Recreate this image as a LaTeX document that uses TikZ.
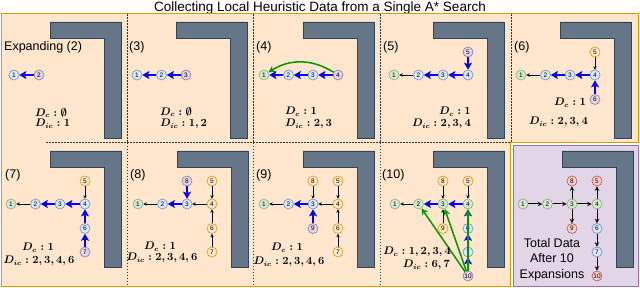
\documentclass[tikz,border=0pt]{standalone}
\usepackage[no-math]{fontspec}
\setmainfont{Liberation Sans}
\usetikzlibrary{arrows.meta}

\definecolor{panelfill}{HTML}{FFE6CC}
\definecolor{paneldraw}{HTML}{D79B00}
\definecolor{purpfill}{HTML}{E1D5E7}
\definecolor{purpdraw}{HTML}{9673A6}
\definecolor{bluefill}{HTML}{DAE8FC}
\definecolor{bluedraw}{HTML}{6C8EBF}
\definecolor{grnfill}{HTML}{D5E8D4}
\definecolor{grndraw}{HTML}{82B366}
\definecolor{redfill}{HTML}{F8CECC}
\definecolor{reddraw}{HTML}{B85450}
\definecolor{wallfill}{HTML}{647687}
\definecolor{walldraw}{HTML}{314354}
\definecolor{jumpgreen}{HTML}{009900}

% local grid of one panel (columns / rows)
\newcommand{\Xa}{11}
\newcommand{\Xb}{35.5}
\newcommand{\Xc}{60}
\newcommand{\Xd}{85}
\newcommand{\Ym}{61}
\newcommand{\Yu}{38}
\newcommand{\Ys}{85.5}
\newcommand{\Yt}{109}
\newcommand{\Yx}{133}

\begin{document}
\begin{tikzpicture}[x=1pt, y=-1pt,
    state/.style={circle, draw, line width=0.6pt, minimum size=10pt, inner sep=0pt,
      font=\fontsize{6.5}{7}\selectfont},
    bnode/.style={state, draw=bluedraw, fill=bluefill},
    pnode/.style={state, draw=purpdraw, fill=purpfill},
    gnode/.style={state, draw=grndraw, fill=grnfill},
    onode/.style={state, draw=paneldraw, fill=panelfill},
    rnode/.style={state, draw=reddraw, fill=redfill},
    parent/.style={-{Stealth[length=7pt, width=8pt, inset=1.5pt]}, line width=1.7pt, blue},
    kept/.style={-{Stealth[length=3.5pt, width=3.5pt]}, line width=0.7pt, black},
    jump/.style={-{Stealth[length=6.5pt, width=7pt]}, line width=1.5pt, jumpgreen},
    total/.style={-{Stealth[length=4.5pt, width=4.5pt]}, line width=1pt, black},
    wall/.style={fill=wallfill, draw=walldraw, line width=0.6pt},
    divider/.style={dash pattern=on 1.5pt off 1.5pt, line width=0.8pt, black!80},
    steplabel/.style={anchor=west, inner sep=0pt, font=\fontsize{12.5}{14}\selectfont},
    dlabel/.style={inner sep=0pt, font=\fontsize{10.5}{12}\selectfont\boldmath}]

  \useasboundingbox (0,0) rectangle (640,288);

  % Title
  \node[anchor=base, font=\fontsize{13.5}{15}\selectfont] (title) at (320,12)
    {Collecting Local Heuristic Data from a Single A* Search};

  % Panels
  \draw[fill=panelfill, draw=paneldraw, line width=1pt]
    (1,14) -- (638.5,14) -- (638.5,143) -- (510.5,143) -- (510.5,286.5) -- (1,286.5) -- cycle;
  \draw[fill=purpfill, draw=purpdraw, line width=1pt] (513,145.5) rectangle (638.5,286.5);

  % Dividers
  \foreach \dx in {127, 253, 380, 511}
    \draw[divider] (\dx,14.5) -- (\dx,142.5);
  \foreach \dx in {127, 253, 380}
    \draw[divider] (\dx,143) -- (\dx,286);
  \draw[divider] (46,142.5) -- (510.5,142.5);

  % Walls
  \foreach \cx/\cy in {0/14, 126/14, 253/14, 383/14, 510/14,
                       0/143, 127/143, 253/143, 383/143, 512/143}
    \draw[wall, shift={(\cx,\cy)}]
      (50,8) -- (121,8) -- (121,124) -- (104,124) -- (104,24) -- (50,24) -- cycle;

  % Expanding (2)
  \begin{scope}[shift={(0,14)}]
    \node[steplabel] (la) at (4,33) {Expanding (2)};
    \node[bnode] (a1) at (14,\Ym) {1};
    \node[pnode] (a2) at (39,\Ym) {2};
    \draw[parent] (a2) -- (a1);
    \node[dlabel, anchor=west] (adc) at (35,99) {$D_c : \emptyset$};
    \node[dlabel, anchor=west] (adic) at (35,110) {$D_{ic} : 1$};
  \end{scope}

  % (3)
  \begin{scope}[shift={(126,14)}]
    \node[steplabel] (lb) at (3,33) {(3)};
    \node[bnode] (b1) at (\Xa,\Ym) {1};
    \node[bnode] (b2) at (\Xb,\Ym) {2};
    \node[pnode] (b3) at (\Xc,\Ym) {3};
    \draw[parent] (b2) -- (b1);
    \draw[parent] (b3) -- (b2);
    \node[dlabel, anchor=west] (bdc) at (34,98) {$D_c : \emptyset$};
    \node[dlabel, anchor=west] (bdic) at (34,110) {$D_{ic} : 1, 2$};
  \end{scope}

  % (4)
  \begin{scope}[shift={(253,14)}]
    \node[steplabel] (lc) at (3,33) {(4)};
    \node[gnode] (c1) at (\Xa,\Ym) {1};
    \node[bnode] (c2) at (\Xb,\Ym) {2};
    \node[bnode] (c3) at (\Xc,\Ym) {3};
    \node[pnode] (c4) at (\Xd,\Ym) {4};
    \draw[parent] (c2) -- (c1);
    \draw[parent] (c3) -- (c2);
    \draw[parent] (c4) -- (c3);
    \draw[jump] (c4) to[bend right=32] (c1);
    \node[dlabel, anchor=west] (cdc) at (32,98) {$D_c : 1$};
    \node[dlabel, anchor=west] (cdic) at (32,110) {$D_{ic} : 2, 3$};
  \end{scope}

  % (5)
  \begin{scope}[shift={(383,14)}]
    \node[steplabel] (ld) at (0,33) {(5)};
    \node[gnode] (d1) at (\Xa,\Ym) {1};
    \node[bnode] (d2) at (\Xb,\Ym) {2};
    \node[bnode] (d3) at (\Xc,\Ym) {3};
    \node[bnode] (d4) at (\Xd,\Ym) {4};
    \node[pnode] (d5) at (\Xd,\Yu) {5};
    \draw[kept] (d2) -- (d1);
    \draw[parent] (d3) -- (d2);
    \draw[parent] (d4) -- (d3);
    \draw[parent] (d5) -- (d4);
    \node[dlabel, anchor=east] (ddc) at (88,98) {$D_c : 1$};
    \node[dlabel, anchor=east] (ddic) at (88,110) {$D_{ic} : 2, 3, 4$};
  \end{scope}

  % (6)
  \begin{scope}[shift={(510,14)}]
    \node[steplabel] (le) at (4,33) {(6)};
    \node[gnode] (e1) at (\Xa,\Ym) {1};
    \node[bnode] (e2) at (\Xb,\Ym) {2};
    \node[bnode] (e3) at (\Xc,\Ym) {3};
    \node[bnode] (e4) at (\Xd,\Ym) {4};
    \node[onode] (e5) at (\Xd,\Yu) {5};
    \node[pnode] (e6) at (\Xd,\Ys) {6};
    \draw[kept] (e2) -- (e1);
    \draw[kept] (e5) -- (e4);
    \draw[parent] (e3) -- (e2);
    \draw[parent] (e4) -- (e3);
    \draw[parent] (e6) -- (e4);
    \node[dlabel, anchor=east] (edc) at (76,89) {$D_c : 1$};
    \node[dlabel, anchor=east] (edic) at (78,108) {$D_{ic} : 2, 3, 4$};
  \end{scope}

  % (7)
  \begin{scope}[shift={(0,143)}]
    \node[steplabel] (lf) at (5,32) {(7)};
    \node[gnode] (f1) at (\Xa,\Ym) {1};
    \node[bnode] (f2) at (\Xb,\Ym) {2};
    \node[bnode] (f3) at (\Xc,\Ym) {3};
    \node[bnode] (f4) at (\Xd,\Ym) {4};
    \node[onode] (f5) at (\Xd,\Yu) {5};
    \node[bnode] (f6) at (\Xd,\Ys) {6};
    \node[pnode] (f7) at (\Xd,\Yt) {7};
    \draw[kept] (f2) -- (f1);
    \draw[kept] (f5) -- (f4);
    \draw[parent] (f3) -- (f2);
    \draw[parent] (f4) -- (f3);
    \draw[parent] (f6) -- (f4);
    \draw[parent] (f7) -- (f6);
    \node[dlabel] (fdc) at (38,105) {$D_c : 1$};
    \node[dlabel] (fdic) at (39,118) {$D_{ic} : 2, 3, 4, 6$};
  \end{scope}

  % (8)
  \begin{scope}[shift={(127,143)}]
    \node[steplabel] (lg) at (3,32) {(8)};
    \node[gnode] (g1) at (\Xa,\Ym) {1};
    \node[bnode] (g2) at (\Xb,\Ym) {2};
    \node[bnode] (g3) at (\Xc,\Ym) {3};
    \node[onode] (g4) at (\Xd,\Ym) {4};
    \node[onode] (g5) at (\Xd,\Yu) {5};
    \node[onode] (g6) at (\Xd,\Ys) {6};
    \node[onode] (g7) at (\Xd,\Yt) {7};
    \node[pnode] (g8) at (\Xc,\Yu) {8};
    \draw[kept] (g2) -- (g1);
    \draw[kept] (g4) -- (g3);
    \draw[kept] (g5) -- (g4);
    \draw[kept] (g6) -- (g4);
    \draw[kept] (g7) -- (g6);
    \draw[parent] (g3) -- (g2);
    \draw[parent] (g8) -- (g3);
    \node[dlabel] (gdc) at (33,104) {$D_c : 1$};
    \node[dlabel] (gdic) at (35,115) {$D_{ic} : 2, 3, 4, 6$};
  \end{scope}

  % (9)
  \begin{scope}[shift={(253,143)}]
    \node[steplabel] (lh) at (3,32) {(9)};
    \node[gnode] (h1) at (\Xa,\Ym) {1};
    \node[bnode] (h2) at (\Xb,\Ym) {2};
    \node[bnode] (h3) at (\Xc,\Ym) {3};
    \node[onode] (h4) at (\Xd,\Ym) {4};
    \node[onode] (h5) at (\Xd,\Yu) {5};
    \node[onode] (h6) at (\Xd,\Ys) {6};
    \node[onode] (h7) at (\Xd,\Yt) {7};
    \node[onode] (h8) at (\Xc,\Yu) {8};
    \node[pnode] (h9) at (\Xc,\Ys) {9};
    \draw[kept] (h2) -- (h1);
    \draw[kept] (h4) -- (h3);
    \draw[kept] (h8) -- (h3);
    \draw[kept] (h5) -- (h4);
    \draw[kept] (h6) -- (h4);
    \draw[kept] (h7) -- (h6);
    \draw[parent] (h3) -- (h2);
    \draw[parent] (h9) -- (h3);
    \node[dlabel] (hdc) at (34,105) {$D_c : 1$};
    \node[dlabel] (hdic) at (36,119) {$D_{ic} : 2, 3, 4, 6$};
  \end{scope}

  % (10)
  \begin{scope}[shift={(383,143)}]
    \node[steplabel] (li) at (-1,32) {(10)};
    \node[gnode] (i1) at (12,\Ym) {1};
    \node[gnode] (i2) at (\Xb,\Ym) {2};
    \node[gnode] (i3) at (\Xc,\Ym) {3};
    \node[gnode] (i4) at (\Xd,\Ym) {4};
    \node[onode] (i5) at (\Xd,\Yu) {5};
    \node[bnode] (i6) at (\Xd,\Ys) {6};
    \node[bnode] (i7) at (\Xd,\Yt) {7};
    \node[onode] (i8) at (\Xc,\Yu) {8};
    \node[onode] (i9) at (\Xc,\Ys) {9};
    \node[pnode] (i10) at (\Xd,\Yx) {10};
    \draw[kept] (i2) -- (i1);
    \draw[kept] (i8) -- (i3);
    \draw[kept] (i9) -- (i3);
    \draw[kept] (i5) -- (i4);
    \draw[parent] (i3) -- (i2);
    \draw[parent] (i4) -- (i3);
    \draw[parent] (i6) -- (i4);
    \draw[parent] (i7) -- (i6);
    \draw[parent] (i10) -- (i7);
    \draw[jump] (i10) -- (i2);
    \draw[jump] (i10) -- (i3);
    \draw[jump] (i10) -- (i4);
    \node[dlabel, anchor=east] (idc) at (68,109) {$D_c : 1, 2, 3, 4$};
    \node[dlabel, anchor=east] (idic) at (67,122) {$D_{ic} : 6, 7$};
  \end{scope}

  % Total data
  \begin{scope}[shift={(512,143)}]
    \node[gnode] (j1) at (\Xa,\Ym) {1};
    \node[gnode] (j2) at (\Xb,\Ym) {2};
    \node[gnode] (j3) at (\Xc,\Ym) {3};
    \node[gnode] (j4) at (\Xd,\Ym) {4};
    \node[rnode] (j5) at (\Xd,\Yu) {5};
    \node[bnode] (j6) at (\Xd,\Ys) {6};
    \node[bnode] (j7) at (\Xd,\Yt) {7};
    \node[rnode] (j8) at (\Xc,\Yu) {8};
    \node[rnode] (j9) at (\Xc,\Ys) {9};
    \node[rnode] (j10) at (\Xd,\Yx) {10};
    \draw[total] (j1) -- (j2);
    \draw[total] (j2) -- (j3);
    \draw[total] (j3) -- (j4);
    \draw[total] (j3) -- (j8);
    \draw[total] (j3) -- (j9);
    \draw[total] (j4) -- (j5);
    \draw[total] (j4) -- (j6);
    \draw[total] (j6) -- (j7);
    \draw[total] (j7) -- (j10);
    \node[align=center, inner sep=0pt, font=\fontsize{12.5}{15.5}\selectfont] (jtext) at (40,116.5)
      {Total Data\\After 10\\Expansions};
  \end{scope}
\end{tikzpicture}
\end{document}
